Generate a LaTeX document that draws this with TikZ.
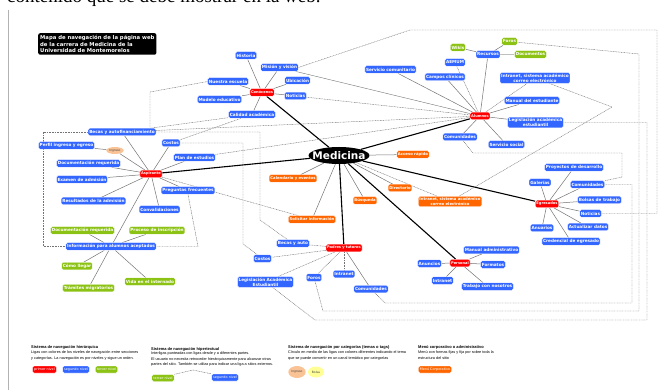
\documentclass[tikz,border=0pt]{standalone}
\usepackage{fontspec}
\setmainfont{DejaVu Sans}
\newfontfamily\serifweb{Liberation Serif}
\newfontfamily\leyenda{Liberation Sans}
\usetikzlibrary{shapes.geometric,positioning,backgrounds}

\definecolor{nivelrojo}{RGB}{255,0,0}
\definecolor{nivelazul}{RGB}{51,102,255}
\definecolor{nivelverde}{RGB}{140,194,20}
\definecolor{menunaranja}{RGB}{255,102,0}
\definecolor{tagnaranja}{RGB}{250,195,150}
\definecolor{tagamarillo}{RGB}{255,255,150}

\begin{document}
\begin{tikzpicture}[x=1pt,y=-1pt,
  caja/.style={rounded corners=1.5pt,inner sep=1.2pt,minimum height=7.5pt,text=white,align=center,draw=white,line width=0.3pt},
  primero/.style={caja,fill=nivelrojo,font=\fontsize{3.6}{4.2}\selectfont\bfseries},
  segundo/.style={caja,fill=nivelazul,font=\fontsize{4.2}{4.8}\selectfont\bfseries},
  tercero/.style={caja,fill=nivelverde,font=\fontsize{4.2}{4.8}\selectfont\bfseries},
  corpo/.style={caja,fill=menunaranja,font=\fontsize{3.8}{4.6}\selectfont\bfseries},
  tema/.style={ellipse,inner sep=0.6pt,text=black!75,font=\fontsize{3}{3.5}\selectfont},
  eje/.style={line width=1.1pt,black},
  rama/.style={line width=0.5pt,black!55},
  liga/.style={line width=0.45pt,black!55,dash pattern=on 0.9pt off 0.7pt},
  titulo/.style={font=\leyenda\fontsize{4}{4.6}\selectfont\bfseries,inner sep=0,anchor=west},
  texto/.style={font=\leyenda\fontsize{3.8}{5.3}\selectfont,inner sep=0,anchor=north west,align=left},
  muestra/.style={caja,font=\fontsize{3.4}{4}\selectfont,minimum height=7pt,inner sep=1.5pt},
]
\useasboundingbox (0,0) rectangle (672,390);
\clip (0,0) rectangle (672,390);

\node[anchor=base west,font=\serifweb\fontsize{19}{22}\selectfont,inner sep=0] (encabezado) at (7,3) {contenido que se debe mostrar en la web.};
\draw[gray!60,line width=0.8pt] (8.5,10) -- (8.5,390);

\node[fill=black,rounded corners=2pt,text=white,align=left,anchor=north west,inner sep=2pt,
  font=\fontsize{5.3}{6.6}\selectfont\bfseries] (mapa) at (38,33)
  {Mapa de navegación de la página web\\de la carrera de Medicina de la\\Universidad de Montemorelos};

% centro
\node[ellipse,fill=black,text=white,minimum width=58pt,minimum height=17pt,inner xsep=-5pt,inner ysep=0.5pt,
  font=\fontsize{10.5}{12}\selectfont\bfseries] (med) at (339,155.5) {Medicina};

% primer nivel
\node[primero] (con) at (262,92.5) {Conócenos};
\node[primero] (alu) at (480,116) {Alumnos};
\node[primero] (asp) at (151,174) {Aspirante};
\node[primero] (egr) at (547,204) {Egresados};
\node[primero] (perl) at (460,263) {Personal};
\node[primero] (pad) at (344,248) {Padres y tutores};

% menu corporativo
\node[corpo] (acc) at (413,154.5) {Acceso rápido};
\node[corpo] (calev) at (293,178.5) {Calendario y eventos};
\node[corpo] (sol) at (312,219.5) {Solicitar información};
\node[corpo] (dir) at (400,188) {Directorio};
\node[corpo] (bus) at (365,200.5) {Búsqueda};
\node[corpo] (intcor) at (450,201.5) {Intranet, sistema académico\\correo electrónico};

% Conocenos
\node[segundo] (his) at (246,55.5) {Historia};
\node[segundo] (mis) at (279.5,67.5) {Misión y visión};
\node[segundo] (nue) at (228,81.5) {Nuestra escuela};
\node[segundo] (ubi) at (297.5,80.5) {Ubicación};
\node[segundo] (mod) at (219.5,99.5) {Modelo educativo};
\node[segundo] (notcon) at (295.5,96) {Noticias};
\node[segundo] (cal) at (252,114.5) {Calidad académica};

% Alumnos
\node[segundo] (sercom) at (390.5,69.5) {Servicio comunitario};
\node[segundo] (cam) at (445,77) {Campos clínicos};
\node[segundo] (aem) at (455,62.5) {AEMUM};
\node[segundo] (rec) at (488,54.5) {Recursos};
\node[tercero] (wik) at (458,47.5) {Wikis};
\node[tercero] (foralu) at (509.5,41.5) {Foros};
\node[tercero] (doc) at (530.5,54.5) {Documentos};
\node[segundo] (intalu) at (535,78) {Intranet, sistema académico\\correo electrónico};
\node[segundo] (man) at (532,100.5) {Manual del estudiante};
\node[segundo] (legalu) at (535.5,122.5) {Legislación académica\\estudiantil};
\node[segundo] (sersoc) at (506.5,144.5) {Servicio social};
\node[segundo] (comalu) at (460,137) {Comunidades};

% Aspirante
\node[segundo] (becasp) at (122,132) {Becas y autofinanciamiento};
\node[segundo] (perf) at (66.5,145.5) {Perfil ingreso y egreso};
\node[tema,fill=tagnaranja,minimum width=16pt,minimum height=7pt] (ing) at (115,150.5) {Ingreso};
\node[segundo] (docreq) at (88.5,163.5) {Documentación requerida};
\node[segundo] (exa) at (82,179.5) {Examen de admisión};
\node[segundo] (res) at (93.5,201) {Resultados de la admisión};
\node[segundo] (conv) at (159.5,209.5) {Convalidaciones};
\node[segundo] (cosasp) at (171,143) {Costos};
\node[segundo] (plan) at (194.5,157.5) {Plan de estudios};
\node[segundo] (pre) at (188,190.5) {Preguntas frecuentes};
\node[segundo] (inf) at (111,246.5) {Información para alumnos aceptados};
\node[tercero] (docver) at (82.5,230.5) {Documentación requerida};
\node[tercero] (pro) at (157,230.5) {Proceso de inscripción};
\node[tercero] (como) at (77,266) {Cómo llegar};
\node[tercero] (tram) at (88.5,288) {Trámites migratorios};
\node[tercero] (vid) at (150,281.5) {Vida en el internado};

% Padres y tutores
\node[segundo] (becpad) at (293,243.5) {Becas y auto};
\node[segundo] (cospad) at (262.5,258.5) {Costos};
\node[segundo] (legpad) at (265.5,282) {Legislación Académica\\Estudiantil};
\node[segundo] (forpad) at (314,277.5) {Foros};
\node[segundo] (intpad) at (344,274) {Intranet};
\node[segundo] (compad) at (371,289) {Comunidades};

% Personal
\node[segundo] (mad) at (491.5,250) {Manual administrativo};
\node[segundo] (anu) at (429.5,263.5) {Anuncios};
\node[segundo] (form) at (493,264.5) {Formatos};
\node[segundo] (intper) at (442.5,280.5) {Intranet};
\node[segundo] (trab) at (487.5,286.5) {Trabajo con nosotros};

% Egresados
\node[segundo] (proy) at (574,167.5) {Proyectos de desarrollo};
\node[segundo] (gal) at (540,182.5) {Galerías};
\node[segundo] (comegr) at (587.5,184.5) {Comunidades};
\node[segundo] (bol) at (599.5,200) {Bolsas de trabajo};
\node[segundo] (notegr) at (590.5,213.5) {Noticias};
\node[segundo] (anua) at (542,228) {Anuarios};
\node[segundo] (act) at (588,227) {Actualizar datos};
\node[segundo] (cred) at (571,241.5) {Credencial de egresado};

\begin{scope}[on background layer]
  \foreach \n in {con,alu,asp,egr,perl,pad} \draw[eje] (med) -- (\n);
  \foreach \n in {acc,calev,sol,dir,bus} \draw[rama] (med) -- (\n);
  \draw[liga] (med) -- (intcor);
  \foreach \n in {his,mis,nue,ubi,mod,notcon,cal} \draw[rama] (con) -- (\n);
  \foreach \n in {sercom,cam,rec,man,legalu,sersoc,comalu} \draw[rama] (alu) -- (\n);
  \draw[liga] (alu) -- (aem);
  \draw[liga] (alu) -- (intalu);
  \draw[rama] (rec) -- (wik);
  \draw[rama] (rec) -- (foralu);
  \draw[line width=1.2pt,black!25] (rec) -- (doc);
  \foreach \n in {becasp,docreq,exa,res,conv,cosasp,plan,pre,inf} \draw[rama] (asp) -- (\n);
  \draw[rama] (asp) -- (ing) -- (perf);
  \foreach \n in {docver,pro,como,tram,vid} \draw[rama] (inf) -- (\n);
  \foreach \n in {becpad,cospad,legpad,forpad,intpad} \draw[liga] (pad) -- (\n);
  \draw[rama] (pad) -- (compad);
  \foreach \n in {mad,anu,form,intper,trab} \draw[rama] (perl) -- (\n);
  \foreach \n in {proy,gal,comegr,bol,notegr,anua,act,cred} \draw[rama] (egr) -- (\n);

  % ligas hipertextuales
  \draw[liga] (nue.west) -- (150,92) |- (becasp);
  \draw[liga] (becasp) -- (43,132) |- (inf);
  \draw[liga] (pre.south) -- (198,246.5) -- (inf);
  \draw[liga] (becasp) -- (260,132) -- (260,220) -- (becpad);
  \draw[liga] (cosasp) -- (243,143) -- (243,244) -- (cospad);
  \draw[liga] (becasp) -- (cal);
  \draw[liga] (cal) -- (cosasp);
  \draw[liga] (becasp) -- (alu);
  \draw[liga] (plan) -- (alu);
  \draw[liga] (notcon) -- (alu);
  \draw[rama,line width=0.4pt] (mis) -- (alu);
  \draw[liga] (mis.east) -- (410,30) -- (657,30) |- (notegr);
  \draw[liga] (forpad) -- (323,311) -- (639,311) -- (639,54) -- (foralu);
  \draw[liga] (legpad) -- (315,320) -- (647,320) |- (legalu);
  \draw[liga] (compad) -- (385,303) -- (632,303) |- (comegr);
  \draw[liga] (comalu) -- (473,153) -- (622,153) -- (622,177) -- (comegr);
  \draw[liga] (intcor) -- (612,107) -- (intalu);
  \draw[liga] (asp) -- (sol);
\end{scope}

% leyenda
\node[titulo] (ley1) at (31,347.7) {Sistema de navegación hierárquica};
\node[texto] (txt1) at (31,350.8) {Ligas con colores de los niveles de navegación entre secciones\\y categorías. La navegación es por niveles y sigue un orden.};
\node[muestra,fill=nivelrojo] (mrojo) at (44.5,369.5) {primer nivel};
\node[muestra,fill=nivelazul] (mazul) at (76,369.5) {segundo nivel};
\node[muestra,fill=nivelverde] (mverde) at (106.5,369.5) {tercer nivel};

\node[titulo] (ley2) at (151,349) {Sistema de navegación hipertextual};
\node[texto] (txt2) at (151,351.8) {Interligas punteadas con ligas desde y a diferentes partes.\\El usuario no necesita retroceder hierárquicamente para alcanzar otras\\partes del sitio. También se utiliza para indicar una liga a sitios externos.};
\node[muestra,fill=nivelverde] (hverde) at (163,378) {tercer nivel};
\node[muestra,fill=nivelazul] (hazul) at (225,377.5) {segundo nivel};
\draw[liga] (hverde.north east) -- (193,370) -- (hazul.north west);

\node[titulo] (ley3) at (288,347.7) {Sistema de navegación por categorías (temas o tags)};
\node[texto] (txt3) at (288,350.8) {Círculo en medio de las ligas con colores diferentes indicando el tema\\que se puede convertir en un canal temático por categorías};
\node[tema,fill=tagnaranja,minimum width=17pt,minimum height=12pt] (ting) at (297,372) {Ingreso};
\node[tema,fill=tagamarillo,minimum width=16pt,minimum height=11pt] (tbol) at (316,372) {Bolsa};

\node[titulo] (ley4) at (418,347.7) {Menú corporativo o administrativo};
\node[texto] (txt4) at (418,350.8) {Menú con formas fijas y fija por sobre toda la\\estructura del sitio};
\node[muestra,fill=menunaranja] (mcorp) at (435,369.5) {Menú Corporativo};
\end{tikzpicture}
\end{document}
